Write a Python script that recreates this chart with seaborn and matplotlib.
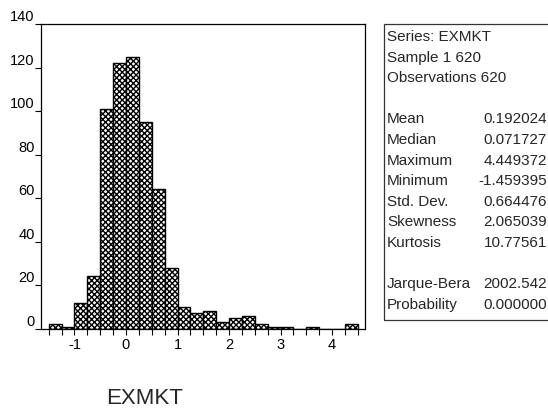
import numpy as np
import pandas as pd
import matplotlib
matplotlib.use("Agg")
import matplotlib.pyplot as plt
from matplotlib.patches import Rectangle
from matplotlib.ticker import FixedLocator
import seaborn as sns

# ---- data ----
bin_edges = [-1.5, -1.25, -1.0, -0.75, -0.5, -0.25, 0.0, 0.25, 0.5, 0.75, 1.0,
             1.25, 1.5, 1.75, 2.0, 2.25, 2.5, 2.75, 3.0, 3.25, 3.5, 3.75, 4.0,
             4.25, 4.5]
counts = [2, 1, 12, 24, 101, 122, 125, 95, 64, 28, 10, 7, 8, 3, 5, 6, 2, 1, 1,
          0, 1, 0, 0, 2]
x_ticks = [-1, 0, 1, 2, 3, 4]
y_ticks = [0, 20, 40, 60, 80, 100, 120, 140]
series_name = "EXMKT"
stat_header = ["Series: EXMKT", "Sample 1 620", "Observations 620"]
stat_names = ["Mean", "Median", "Maximum", "Minimum", "Std. Dev.", "Skewness", "Kurtosis"]
stat_values = ["0.192024", "0.071727", "4.449372", "-1.459395", "0.664476", "2.065039", "10.77561"]
test_names = ["Jarque-Bera", "Probability"]
test_values = ["2002.542", "0.000000"]

sns.set_style("white")
plt.rcParams["font.family"] = ["Liberation Sans", "DejaVu Sans"]
plt.rcParams["hatch.linewidth"] = 1.0

W, H = 548, 409
fig = plt.figure(figsize=(W / 100, H / 100), dpi=100)
ax = fig.add_axes([41 / W, 1 - 328.7 / H, (365 - 41) / W, (328.7 - 24) / H])

centers = [(bin_edges[i] + bin_edges[i + 1]) / 2 for i in range(len(counts))]
df = pd.DataFrame({"x": centers, "w": counts})
sns.histplot(data=df, x="x", weights="w", bins=bin_edges, ax=ax,
             color="white", edgecolor="black", linewidth=1.0, alpha=1,
             hatch="xxxxxx", stat="count")

ax.set_xlim(-1.65, 4.64)
ax.set_ylim(0, 140)
ax.set_xlabel("")
ax.set_ylabel("")

ax.set_xticks(x_ticks)
ax.set_xticklabels([str(t) for t in x_ticks])
ax.xaxis.set_minor_locator(FixedLocator(bin_edges))
ax.set_yticks(y_ticks)
ax.set_yticklabels([str(t) for t in y_ticks])

ax.tick_params(axis="x", which="both", direction="out", length=4, width=0.8,
               color="black", bottom=True, labelsize=10.5, pad=3, labelcolor="black")
ax.tick_params(axis="y", which="major", direction="out", length=4.5, width=0.8,
               color="black", left=True, labelsize=10.5, pad=0, labelcolor="black")
for lab in ax.get_yticklabels():
    lab.set_verticalalignment("bottom")

for s in ax.spines.values():
    s.set_visible(True)
    s.set_color("black")
    s.set_linewidth(0.9)

fig.text(145 / W, 1 - 398 / H, series_name, ha="center", va="center", fontsize=16)

# ---- statistics box ----
fig.add_artist(Rectangle((384 / W, 1 - 320 / H), (W + 5 - 384) / W, (320 - 24) / H,
                         transform=fig.transFigure, fill=False,
                         edgecolor="#333333", linewidth=0.9, clip_on=False))

fs = 11
lx = 387 / W
rx = 547 / W
step = 20.6
y0 = 37
rows = [(t, None) for t in stat_header]
rows.append((None, None))
rows += list(zip(stat_names, stat_values))
rows.append((None, None))
rows += list(zip(test_names, test_values))

for i, (n, v) in enumerate(rows):
    y = 1 - (y0 + i * step) / H
    if n:
        fig.text(lx, y, n, ha="left", va="center", fontsize=fs)
    if v:
        fig.text(rx, y, v, ha="right", va="center", fontsize=fs)

fig.savefig("out.png", dpi=100)
